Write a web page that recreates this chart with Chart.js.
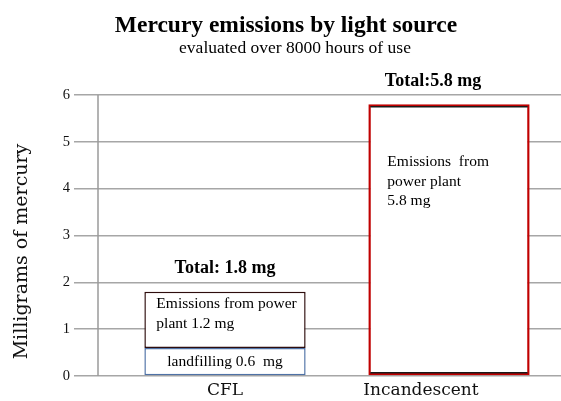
<!DOCTYPE html>
<html>
<head>
<meta charset="utf-8">
<script src="https://cdn.jsdelivr.net/npm/chart.js@4"></script>
<style>
  html, body { margin: 0; padding: 0; background: #fff; }
  #wrap { width: 561px; height: 401px; }
</style>
</head>
<body>
<div id="wrap"><canvas id="c" width="561" height="401"></canvas></div>
<script>
// Light sources compared
const categories = ['CFL', 'Incandescent'];
// Mercury by origin, in milligrams
const landfillValues = [0.6, null];
const powerPlantValues = [1.2, 5.8];
const totals = [1.8, 5.8];
// Text shown above and inside each bar
const totalLabels = ['Total: 1.8 mg', 'Total:5.8 mg'];
const powerPlantLabels = [['Emissions from power', 'plant 1.2 mg'], ['Emissions  from', 'power plant', '5.8 mg']];
const landfillLabels = ['landfilling 0.6  mg', ''];
const yTicks = [0, 1, 2, 3, 4, 5, 6];
const titleText = 'Mercury emissions by light source';
const subtitleText = 'evaluated over 8000 hours of use';
const yTitleText = 'Milligrams of mercury';

const SERIF = '"Liberation Serif", "Times New Roman", serif';
const DV_SERIF = '"DejaVu Serif", serif';

// Horizontal nudges for the category names and the totals
const categoryLabelShift = [0, -28];
const totalShift = [0, -16];

// Headings, axis rule, category names and bar annotations
const annotate = {
  id: 'annotate',
  afterDatasetsDraw(chart) {
    const ctx = chart.ctx;
    const x = chart.scales.x, y = chart.scales.y;
    const area = chart.chartArea;
    ctx.save();

    ctx.fillStyle = '#000';
    ctx.textAlign = 'center';
    ctx.textBaseline = 'middle';
    ctx.font = 'bold 23.5px ' + SERIF;
    ctx.fillText(titleText, 286, 26);
    ctx.font = '17.5px ' + SERIF;
    ctx.fillText(subtitleText, 295, 48);

    // rotated axis title
    ctx.save();
    ctx.fillStyle = '#111';
    ctx.font = '19px ' + DV_SERIF;
    ctx.translate(22, (y.getPixelForValue(0) + y.getPixelForValue(6)) / 2 + 16);
    ctx.rotate(-Math.PI / 2);
    ctx.fillText(yTitleText, 0, 0);
    ctx.restore();

    // category names under the bars
    ctx.fillStyle = '#111';
    ctx.font = '17px ' + DV_SERIF;
    categories.forEach((cat, i) => {
      ctx.fillText(cat, x.getPixelForValue(i) + categoryLabelShift[i], area.bottom + 15);
    });

    // vertical axis line
    ctx.strokeStyle = '#9a9a9a';
    ctx.lineWidth = 1.5;
    ctx.beginPath();
    ctx.moveTo(area.left - 15, y.getPixelForValue(6));
    ctx.lineTo(area.left - 15, y.getPixelForValue(0));
    ctx.stroke();

    const meta = chart.getDatasetMeta(1);
    ctx.fillStyle = '#000';
    categories.forEach((cat, i) => {
      const bar = meta.data[i];
      const left = bar.x - bar.width / 2;
      const topPx = y.getPixelForValue(totals[i]);
      // dark inner rules of the incandescent box
      if (i === 1) {
        ctx.strokeStyle = '#1a1a1a';
        ctx.lineWidth = 1.5;
        ctx.beginPath();
        ctx.moveTo(left + 2, bar.y + 2.5);
        ctx.lineTo(left + bar.width - 2, bar.y + 2.5);
        ctx.moveTo(left + 2, bar.base - 2.5);
        ctx.lineTo(left + bar.width - 2, bar.base - 2.5);
        ctx.stroke();
      }
      // totals above the bars
      ctx.font = 'bold 18px ' + SERIF;
      ctx.textAlign = 'center';
      ctx.fillText(totalLabels[i], bar.x + totalShift[i], topPx - 23);
      // power plant text
      ctx.font = '15.5px ' + SERIF;
      ctx.textAlign = 'left';
      const lines = powerPlantLabels[i];
      const startY = i === 0 ? topPx + 12 : topPx + 58;
      const startX = i === 0 ? left + 12 : left + 19;
      const step = i === 0 ? 20 : 19.5;
      lines.forEach((t, k) => ctx.fillText(t, startX, startY + k * step));
      // landfill text
      if (landfillLabels[i]) {
        ctx.textAlign = 'center';
        const mid = (y.getPixelForValue(0) + y.getPixelForValue(landfillValues[i])) / 2;
        ctx.fillText(landfillLabels[i], bar.x, mid);
      }
    });
    ctx.restore();
  }
};

new Chart(document.getElementById('c'), {
  type: 'bar',
  data: {
    labels: categories,
    datasets: [
      {
        label: 'Landfilling',
        data: landfillValues,
        backgroundColor: '#ffffff',
        borderColor: '#4f72a6',
        borderWidth: 1.5,
        borderSkipped: false
      },
      {
        label: 'Power plant',
        data: powerPlantValues,
        backgroundColor: '#ffffff',
        borderColor: ['#2e0d0d', '#c00000'],
        borderWidth: [1.5, 2.5],
        borderSkipped: false
      }
    ]
  },
  options: {
    responsive: false,
    animation: false,
    layout: { padding: { left: 0, right: 0, top: 95, bottom: 0 } },
    plugins: {
      legend: { display: false },
      tooltip: { enabled: false },
      title: { display: false },
      subtitle: { display: false }
    },
    scales: {
      x: {
        stacked: true,
        grid: { display: false, drawTicks: false },
        border: { display: false },
        barPercentage: 0.74,
        categoryPercentage: 1,
        ticks: { display: false },
        afterFit(s) { s.height = 25; }
      },
      y: {
        stacked: true,
        min: 0,
        max: 6,
        afterBuildTicks(s) { s.ticks = yTicks.map(v => ({ value: v })); },
        grid: {
          color: '#a6a6a6',
          lineWidth: 1.5,
          tickLength: 39,
          tickColor: '#a6a6a6'
        },
        border: { display: false },
        ticks: {
          color: '#111',
          padding: 4,
          font: { family: SERIF, size: 14.5 }
        },
        afterFit(s) { s.width = 113; }
      }
    }
  },
  plugins: [annotate]
});
</script>
</body>
</html>
